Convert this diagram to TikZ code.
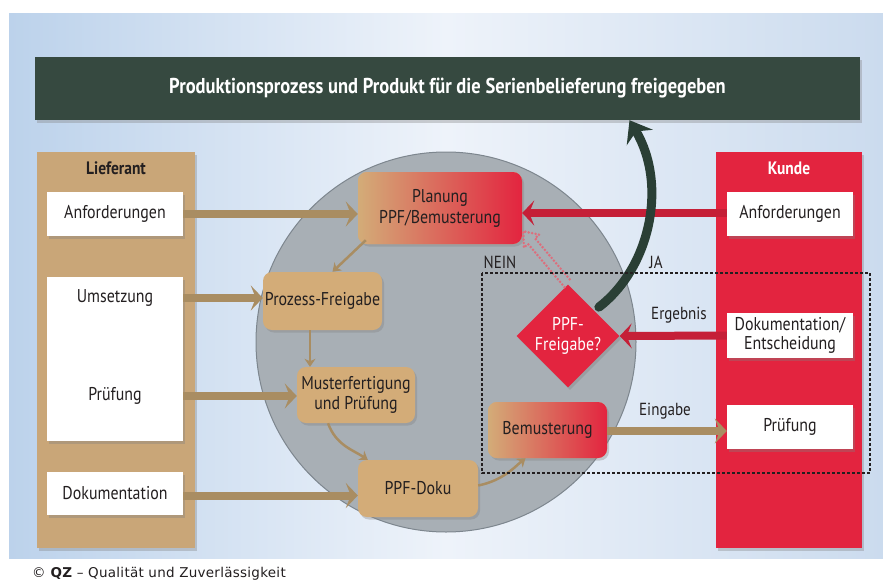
\documentclass[tikz,border=0pt]{standalone}
\usepackage{fontspec}
\setmainfont{PT Sans}[FakeStretch=0.86]
\newfontfamily\footfont{DejaVu Sans}[LetterSpace=2]
\usetikzlibrary{arrows.meta,shadows,shapes.geometric,calc}
\definecolor{bgA}{HTML}{BCD2EB}
\definecolor{bgB}{HTML}{EEF3FA}
\definecolor{bgC}{HTML}{CBDBEE}
\definecolor{titleC}{HTML}{364940}
\definecolor{liefC}{HTML}{C9A678}
\definecolor{tanbox}{HTML}{D3AC78}
\definecolor{tanArrow}{HTML}{A98D62}
\definecolor{redC}{HTML}{E3243F}
\definecolor{redArrow}{HTML}{C51F37}
\definecolor{circC}{HTML}{A8AFB5}
\definecolor{circE}{HTML}{7D868E}
\definecolor{greenA}{HTML}{2A3F35}
\definecolor{nein}{HTML}{DC6E7C}
\definecolor{txt}{HTML}{231F20}
\begin{document}
\begin{tikzpicture}[x=1pt,y=-1pt,
  shadowed/.style={drop shadow={opacity=.35,shadow xshift=2pt,shadow yshift=-2.5pt}},
  wbox/.style={fill=white, inner sep=0pt, shadowed, text=txt, align=center, font=\fontsize{18.5}{20}\selectfont},
  rbox/.style={rounded corners=9pt, fill=tanbox, inner sep=0pt, shadowed, text=txt, align=center, font=\fontsize{18.5}{20}\selectfont},
  gbox/.style={rbox, left color=tanbox, right color=redC},
  tarrow/.style={draw=tanArrow, line width=8pt, -{Stealth[length=12pt,width=25pt,inset=5pt]}},
  rarrow/.style={draw=redArrow, line width=8pt, -{Stealth[length=12pt,width=25pt,inset=5pt]}},
  thinarrow/.style={draw=tanArrow, line width=2.5pt, -{Stealth[length=8pt,width=11pt,inset=2.5pt]}},
  lab/.style={text=txt, font=\fontsize{17.5}{19}\selectfont, inner sep=0pt},
  dots/.style={draw=nein, line width=2.8pt, line cap=round, dash pattern=on 0pt off 3.5pt}
]
\useasboundingbox (0,0) rectangle (883,581);
\fill[white] (0,0) rectangle (883,581);
\shade[left color=bgA, right color=bgC, middle color=bgB] (9,13) rectangle (883,558);

% title bar
\node[fill=titleC, minimum width=825pt, minimum height=63pt, inner sep=0pt, shadowed,
      text=white, font=\bfseries\fontsize{21.5}{24}\selectfont] (title) at (447.5,88.5)
      {Produktionsprozess und Produkt für die Serienbelieferung freigegeben};

% gray circle
\fill[circC, draw=circE, line width=1pt] (446,342) circle[radius=190pt];

% Lieferant column
\node[fill=liefC, minimum width=158pt, minimum height=396pt, inner sep=0pt, shadowed] (lief) at (116,350) {};
\node[text=txt, font=\bfseries\fontsize{18}{20}\selectfont] (liefh) at (116,168) {Lieferant};
\node[wbox, minimum width=136pt, minimum height=44pt] (lAnf) at (115,214) {Anforderungen};
\node[wbox, minimum width=136pt, minimum height=164pt] (lUP) at (115,359) {};
\node[lab, font=\fontsize{18.5}{20}\selectfont] (umsetz) at (115,298) {Umsetzung};
\node[lab, font=\fontsize{18.5}{20}\selectfont] (pruef) at (115,396) {Prüfung};
\node[wbox, minimum width=136pt, minimum height=43pt] (lDok) at (115,493.5) {Dokumentation};

% Kunde column
\node[fill=redC, minimum width=146pt, minimum height=396pt, inner sep=0pt, shadowed] (kunde) at (789,350) {};
\node[text=white, font=\bfseries\fontsize{18}{20}\selectfont] (kundeh) at (789,168) {Kunde};
\node[wbox, minimum width=126pt, minimum height=44pt] (kAnf) at (790,214) {Anforderungen};
\node[wbox, minimum width=126pt, minimum height=45pt, font=\fontsize{18.5}{19.5}\selectfont] (kDok) at (790,335.5) {Dokumentation/\\Entscheidung};
\node[wbox, minimum width=126pt, minimum height=44pt] (kPr) at (790,427) {Prüfung};

% inner process nodes
\node[gbox, minimum width=164pt, minimum height=72pt, font=\fontsize{18.5}{21}\selectfont] (plan) at (440,208) {Planung\\PPF/Bemusterung};
\node[rbox, minimum width=119pt, minimum height=58pt] (proz) at (322.5,301) {Prozess-Freigabe};
\node[rbox, minimum width=118pt, minimum height=56pt, font=\fontsize{18.5}{20}\selectfont] (must) at (356,395) {Musterfertigung\\und Prüfung};
\node[rbox, minimum width=120pt, minimum height=57pt] (doku) at (418,488.5) {PPF-Doku};
\node[gbox, minimum width=119pt, minimum height=56pt] (bem) at (547.5,430) {Bemusterung};
\node[diamond, fill=redC, inner sep=0pt, minimum width=100pt, minimum height=102pt, text=white,
      align=center, font=\fontsize{18.5}{20}\selectfont, shadowed] (dia) at (568,336) {PPF-\\Freigabe?};

% thick arrows from Lieferant
\draw[tarrow] (lAnf.east) -- (lAnf.east -| plan.west);
\draw[tarrow] (umsetz -| lUP.east) -- (umsetz -| proz.west);
\draw[tarrow] (pruef -| lUP.east) -- (pruef -| must.west);
\draw[tarrow] ([yshift=-2pt]lDok.east) -- ([yshift=-2pt]lDok.east -| doku.west);
% Bemusterung -> Kunde Pruefung
\draw[tarrow] ([yshift=-1pt]bem.east) -- ([yshift=-1pt]bem.east -| kPr.west);
\node[lab] (eingabe) at (665,411) {Eingabe};
% red arrows from Kunde
\draw[rarrow] ([yshift=1pt]kAnf.west) -- ([yshift=1pt]kAnf.west -| plan.east);
\draw[rarrow] (kDok.west) -- (dia.east);
\node[lab] (ergebnis) at (679,315) {Ergebnis};

% thin arrows
\draw[thinarrow] ([xshift=8pt,yshift=4pt]plan.south west) -- ([xshift=10pt]proz.north);
\draw[thinarrow] ([xshift=-12.5pt]proz.south) -- ([xshift=-12.5pt]proz.south |- must.north);
\draw[thinarrow] ([xshift=-28pt]must.south) .. controls ([xshift=-20pt,yshift=-22pt]must.south) and ([xshift=-5pt,yshift=10pt]doku.north west) .. ([xshift=10pt]doku.north west);
\draw[thinarrow] ([yshift=3pt]doku.east) .. controls ([xshift=25pt,yshift=8pt]doku.east) and ([xshift=-32pt,yshift=-8pt]bem.south) .. ([xshift=-22pt]bem.south);

% NEIN: dotted outlined arrow from the diamond back to Planung
\coordinate (nD) at (dia.north);
\coordinate (nT) at ($(plan.south east)+(1,-13)$);
\coordinate (nH) at ($(nT)!13pt!(nD)$);
\draw[dots] ($(nD)!4.5pt!90:(nT)$) -- ($(nH)!4.5pt!-90:(nD)$) -- ($(nH)!10pt!-90:(nD)$)
  -- (nT) -- ($(nH)!10pt!90:(nD)$) -- ($(nH)!4.5pt!90:(nD)$) -- ($(nD)!4.5pt!-90:(nT)$);
\node[lab] (neinl) at (500,262) {NEIN};

% JA arrow
\draw[draw=greenA, line width=9pt, line cap=round, -{Stealth[length=20pt,width=30pt,inset=7pt]}]
  ([xshift=5pt,yshift=3pt]dia.north east) .. controls (650,268) and (668,185) .. ([xshift=182pt]title.south);
\node[lab] (jal) at (656,262) {JA};

% dashed frame
\draw[line width=1.4pt, dash pattern=on 3pt off 2pt, txt] (482,273) rectangle (870,473);

% footer
\node[anchor=west, inner sep=0pt, text=txt, font=\footfont\fontsize{13.5}{15}\selectfont] (foot) at (32,574)
  {©~\textbf{QZ} – Qualität und Zuverlässigkeit};
\end{tikzpicture}
\end{document}
